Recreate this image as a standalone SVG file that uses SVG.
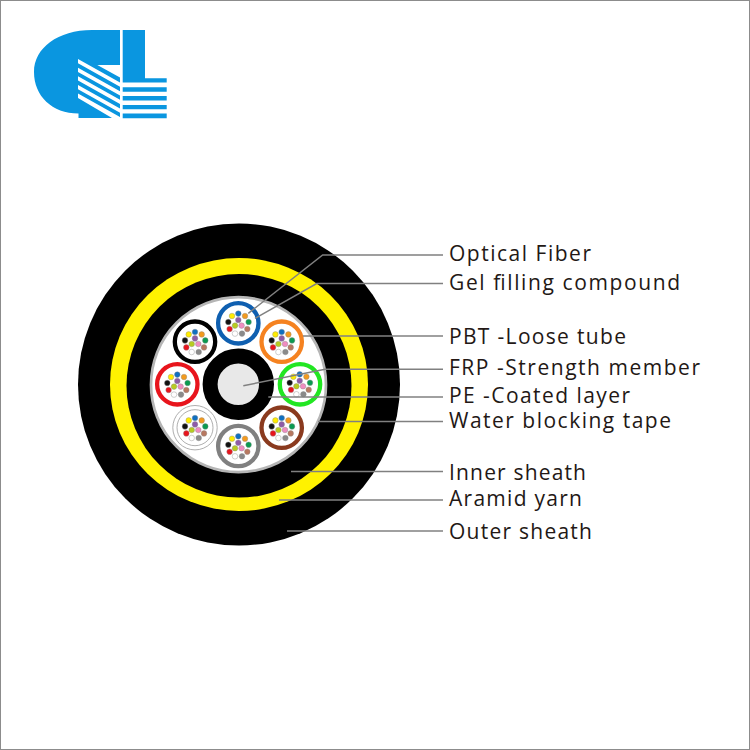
<svg xmlns="http://www.w3.org/2000/svg" width="750" height="750" viewBox="0 0 750 750">
<style>
.lbl{font-family:"Open Sans","Noto Sans",sans-serif;font-size:21px;fill:#231815}
.ld{fill:none;stroke:#808080;stroke-width:1.5}
.logo{fill:#0a96e0}
.cut{fill:#fff}
.f{stroke:#888;stroke-width:.4}
.t{fill:#fff;stroke-width:4.3}
</style>
<defs>
<g id="fibers">
<circle class="f" cx="0" cy="-9.7" r="2.8" fill="#0f6fc0"/>
<circle class="f" cx="-6.3" cy="-7.3" r="2.8" fill="#ffec00"/>
<circle class="f" cx="6.7" cy="-7.3" r="2.8" fill="#f39a1e"/>
<circle class="f" cx="-10" cy="-1.3" r="2.8" fill="#111"/>
<circle class="f" cx="10.3" cy="-1.3" r="2.8" fill="#0a9a50"/>
<circle class="f" cx="0" cy="-3.3" r="2.8" fill="#8e5aa8"/>
<circle class="f" cx="-8.7" cy="5.7" r="2.8" fill="#e8141c"/>
<circle class="f" cx="-3.3" cy="2.3" r="2.8" fill="#b8cc20"/>
<circle class="f" cx="3.3" cy="2.3" r="2.8" fill="#f08cc0"/>
<circle class="f" cx="9" cy="5.7" r="2.8" fill="#b87860"/>
<circle class="f" cx="-3.3" cy="10.3" r="2.8" fill="#fff"/>
<circle class="f" cx="3.7" cy="10.3" r="2.8" fill="#8a8a8a"/>
</g>
</defs>
<rect x="0.5" y="0.5" width="749" height="749" fill="#fff" stroke="#8c8c8c"/>
<g id="logo">
<path class="logo" d="M120,30 H92 C58,30 34,48 34,72 C34,96 52,113.5 78.5,113.5 V118 H120 Z"/>
<path class="cut" d="M97.3,65 H120 V77.5 Z M78,59 L120,82.5 V86.8 L78,63.3 Z M78,67.65 L120,91.15 V95.45 L78,71.95 Z M78,76.3 L120,99.8 V104.1 L78,80.6 Z M78,84.95 L120,108.45 V112.75 L78,89.25 Z M78,93.6 L120,117.1 V118 H112 L78,97.9 Z"/>
<path class="logo" d="M122.7,30 H145 V78.3 H166.7 V82.5 H122.7 Z M122.7,87.3 H166.7 V91.7 H122.7 Z M122.7,96 H166.7 V100.5 H122.7 Z M122.7,105 H166.7 V109.3 H122.7 Z M122.7,113.5 H166.7 V118.3 H122.7 Z"/>
</g>
<g id="outer-sheath"><circle cx="239" cy="384.5" r="161" fill="#000"/></g>
<g id="aramid-yarn"><ellipse cx="239" cy="384.5" rx="129" ry="126.5" fill="#fff200"/><ellipse cx="239" cy="385.8" rx="112.5" ry="111.8" fill="#000"/></g>
<g id="water-blocking-tape"><circle cx="238.5" cy="384.7" r="87.5" fill="#fff" stroke="#b5b5b5" stroke-width="2.7"/></g>
<g id="frp"><circle cx="238.3" cy="384.3" r="28.2" fill="#e8e8e8" stroke="#000" stroke-width="15"/></g>
<g id="tube-blue"><circle class="t" cx="238.3" cy="323.3" r="20.2" stroke="#0f5fb0"/><use href="#fibers" x="238.3" y="323.3"/></g>
<g id="tube-orange"><circle class="t" cx="281.7" cy="341.7" r="20.2" stroke="#f58220"/><use href="#fibers" x="281.7" y="341.7"/></g>
<g id="tube-green"><circle class="t" cx="300" cy="384.3" r="20.2" stroke="#22e622"/><use href="#fibers" x="299.7" y="384"/></g>
<g id="tube-brown"><circle class="t" cx="281.7" cy="427.7" r="20.2" stroke="#8a3a1e"/><use href="#fibers" x="281.7" y="427.7"/></g>
<g id="tube-gray"><circle class="t" cx="238.3" cy="446" r="20.2" stroke="#808080"/><use href="#fibers" x="238.3" y="446"/></g>
<g id="tube-white"><circle cx="195" cy="427.7" r="22.2" fill="#fff" stroke="#999" stroke-width=".8"/><circle cx="195" cy="427.7" r="18" fill="#fff" stroke="#999" stroke-width=".8"/><use href="#fibers" x="195" y="427.7"/></g>
<g id="tube-red"><circle class="t" cx="177.3" cy="384.3" r="20.2" stroke="#e8141c"/><use href="#fibers" x="177.3" y="384.3"/></g>
<g id="tube-black"><circle class="t" cx="195" cy="341.7" r="20.2" stroke="#000"/><use href="#fibers" x="195" y="341.7"/></g>
<g id="connectors">
<polyline class="ld" points="443,255 322.7,255 248.3,313.3"/>
<polyline class="ld" points="443,283.5 316.7,283.5 255,318.3"/>
<polyline class="ld" points="443,336 303,336"/>
<polyline class="ld" points="443,369.3 325,369.3 243.3,385.7"/>
<polyline class="ld" points="443,397 268.3,397"/>
<polyline class="ld" points="443,421.5 318,421.5"/>
<polyline class="ld" points="443,471.5 291,471.5"/>
<polyline class="ld" points="443,500 279,500"/>
<polyline class="ld" points="443,531 287,531"/>
</g>
<g id="labels">
<text class="lbl" x="449" y="261" textLength="142">Optical Fiber</text>
<text class="lbl" x="449" y="289.5" textLength="231">Gel filling compound</text>
<text class="lbl" x="449" y="344" textLength="177">PBT -Loose tube</text>
<text class="lbl" x="449" y="375" textLength="251">FRP -Strength member</text>
<text class="lbl" x="449" y="402.5" textLength="181">PE -Coated layer</text>
<text class="lbl" x="449" y="427.5" textLength="222">Water blocking tape</text>
<text class="lbl" x="449" y="480" textLength="137">Inner sheath</text>
<text class="lbl" x="449" y="505.5" textLength="133">Aramid yarn</text>
<text class="lbl" x="449" y="539" textLength="143">Outer sheath</text>
</g>
</svg>
